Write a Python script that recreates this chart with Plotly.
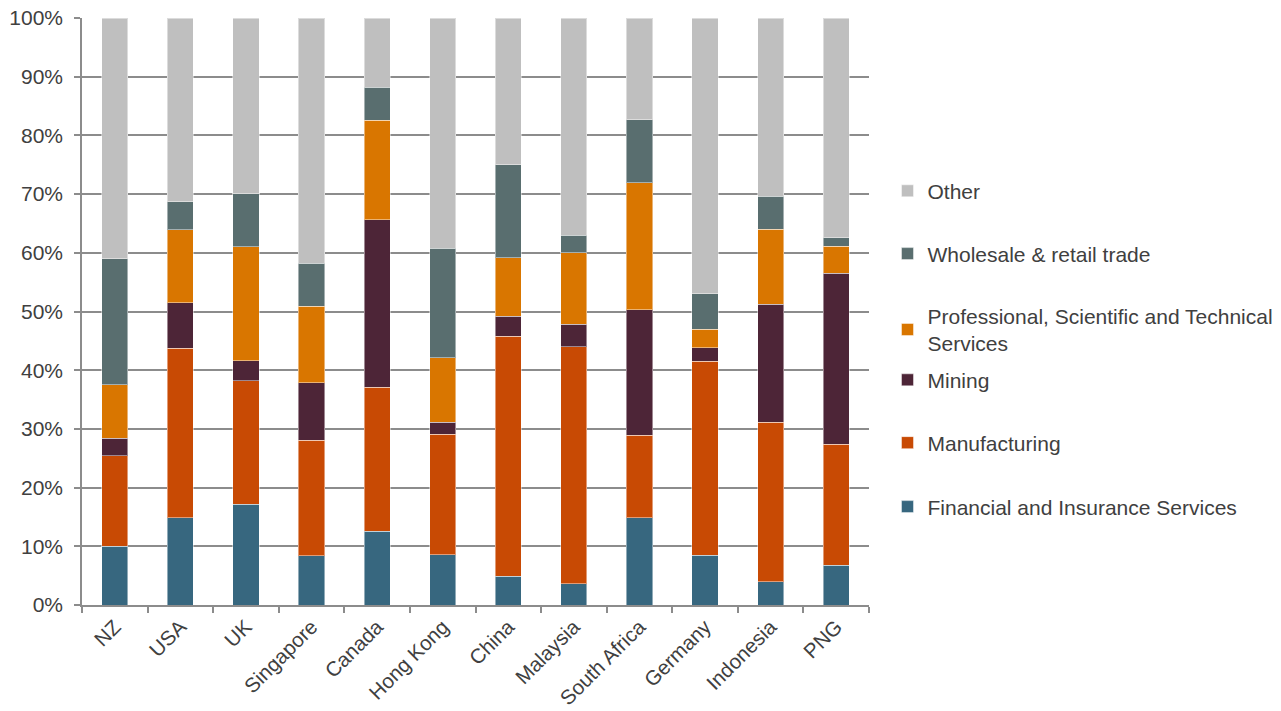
import plotly.graph_objects as go

# Share of each sector by country (percent of total)
countries = ["NZ", "USA", "UK", "Singapore", "Canada", "Hong Kong", "China",
             "Malaysia", "South Africa", "Germany", "Indonesia", "PNG"]

financial = [10.0, 14.9, 17.2, 8.4, 12.6, 8.6, 4.9, 3.6, 14.9, 8.5, 4.0, 6.8]
manufacturing = [15.4, 28.8, 21.0, 19.7, 24.5, 20.5, 40.9, 40.4, 14.0, 33.0, 27.1, 20.6]
mining = [3.0, 7.8, 3.4, 9.8, 28.5, 2.0, 3.4, 3.8, 21.4, 2.3, 20.1, 29.1]
professional = [9.1, 12.4, 19.4, 13.0, 17.0, 11.0, 10.0, 12.2, 21.6, 3.2, 12.8, 4.6]
wholesale = [21.5, 4.8, 9.1, 7.3, 5.6, 18.7, 15.8, 3.0, 10.8, 6.0, 5.6, 1.5]
other = [41.0, 31.3, 29.9, 41.8, 11.8, 39.2, 25.0, 37.0, 17.3, 47.0, 30.4, 37.4]

y_ticks = [0, 10, 20, 30, 40, 50, 60, 70, 80, 90, 100]
y_tick_labels = ["0%", "10%", "20%", "30%", "40%", "50%", "60%", "70%", "80%", "90%", "100%"]

FONT = "Liberation Sans, Arial, sans-serif"
TEXT = "#404040"
GRID = "#8c8c8c"

series = [
    ("Financial and Insurance Services", financial, "#37677F", 0.167),
    ("Manufacturing", manufacturing, "#C84A04", 0.276),
    ("Mining", mining, "#4D2537", 0.383),
    ("Professional, Scientific and Technical<br>Services", professional, "#D97600", 0.469),
    ("Wholesale & retail trade", wholesale, "#596E6F", 0.598),
    ("Other", other, "#BFBFBF", 0.705),
]

fig = go.Figure()
layout_legends = {}
for i, (name, vals, color, ly) in enumerate(series):
    key = "legend" if i == 0 else f"legend{i + 1}"
    fig.add_trace(go.Bar(
        x=countries, y=vals, name=name,
        marker=dict(color=color, line=dict(color="rgba(255,255,255,0.45)", width=1)),
        legend=key,
    ))
    layout_legends[key] = dict(
        x=1.0235, xanchor="left", y=ly, yanchor="middle",
        font=dict(family=FONT, size=21, color=TEXT),
        bgcolor="rgba(0,0,0,0)", itemclick=False, itemdoubleclick=False,
    )

fig.update_layout(
    barmode="stack",
    bargap=0.6,
    width=1281, height=711,
    margin=dict(l=82, r=412, t=18, b=106, autoexpand=False),
    paper_bgcolor="white", plot_bgcolor="white",
    font=dict(family=FONT, size=21, color=TEXT),
    showlegend=True,
    **layout_legends,
)

fig.update_xaxes(
    type="category",
    tickangle=-45,
    tickson="boundaries",
    ticks="outside", ticklen=6, tickwidth=1.5, tickcolor=GRID,
    showline=True, linecolor=GRID, linewidth=1.5,
    showgrid=False,
    tickfont=dict(family=FONT, size=20.5, color=TEXT),
    ticklabelstandoff=0,
    automargin=False,
)

fig.update_yaxes(
    range=[0, 100],
    tickvals=y_ticks, ticktext=y_tick_labels,
    ticks="outside", ticklen=6, tickwidth=1.5, tickcolor=GRID,
    showline=True, linecolor=GRID, linewidth=1.5,
    showgrid=True, gridcolor=GRID, gridwidth=1.5,
    zeroline=False,
    tickfont=dict(family=FONT, size=21, color=TEXT),
    ticklabelstandoff=7,
    automargin=False,
)

fig.write_html("out.html")
